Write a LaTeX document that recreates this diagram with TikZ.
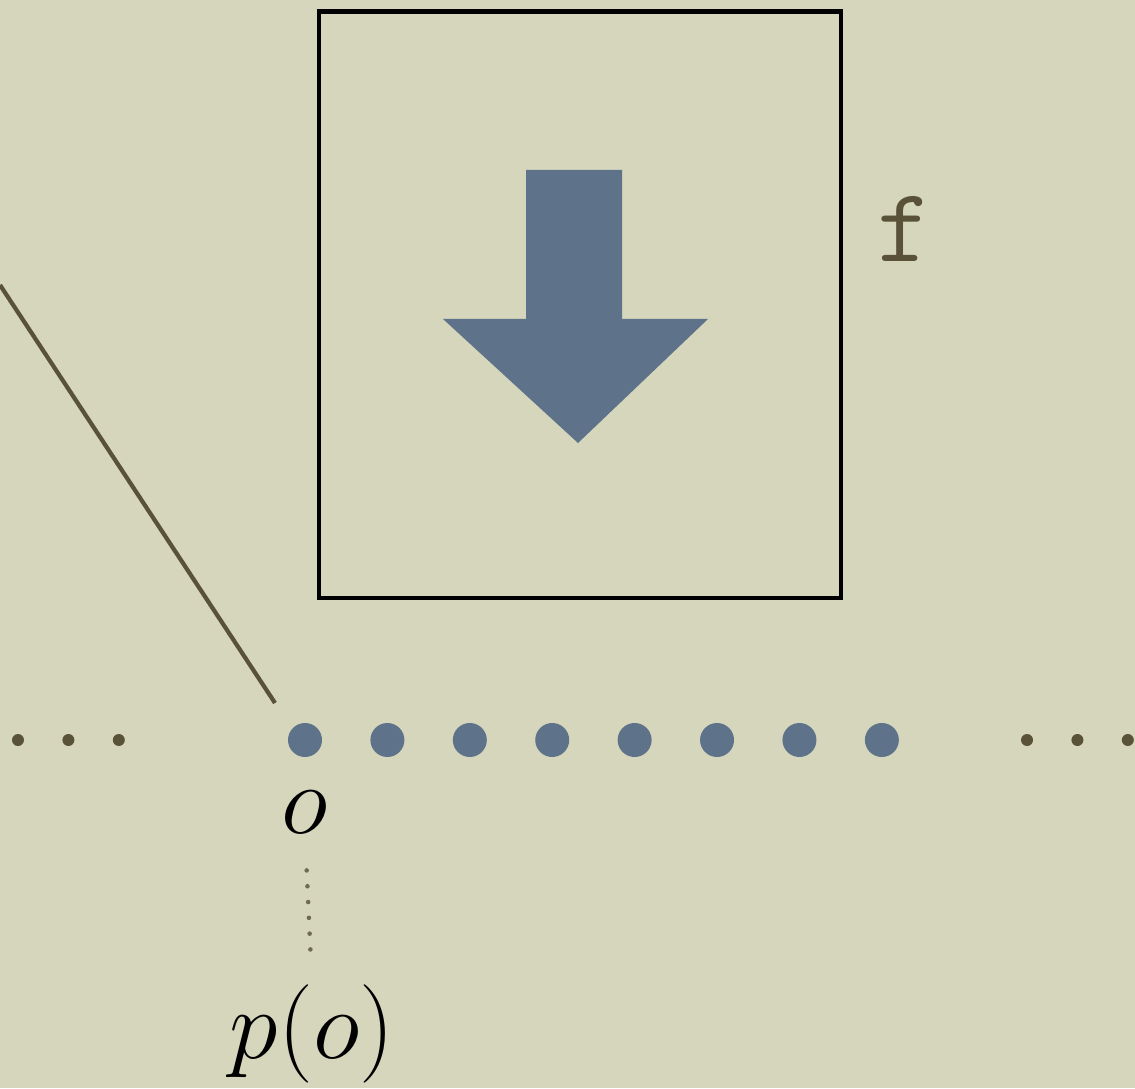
\documentclass[tikz,border=0pt]{standalone}
\usepackage{fix-cm}
\usepackage{fontspec}
\usetikzlibrary{positioning}

\definecolor{paper}{RGB}{213,214,188}
\definecolor{slate}{RGB}{94,115,137}
\definecolor{olive}{RGB}{90,82,56}
\definecolor{greyolive}{RGB}{110,106,85}

\tikzset{
	elem/.style={circle, fill=slate, inner sep=0pt, minimum size=0.34cm},
	ellip/.style={circle, fill=olive, inner sep=0pt, minimum size=0.12cm},
	big/.style={inner sep=0pt, font=\fontsize{28}{33}\selectfont},
}

\begin{document}
\begin{tikzpicture}

	\fill[paper] (0,0) rectangle (11.35,10.88);
	\useasboundingbox (0,0) rectangle (11.35,10.88);

	\node[draw=black, line width=1.4pt, minimum width=5.22cm, minimum height=5.865cm] (frame) at (5.80,7.8325) {};
	\fill[slate] (5.26,9.18) -- (6.22,9.18) -- (6.22,7.69) -- (7.08,7.69)
		-- (5.78,6.45) -- (4.43,7.69) -- (5.26,7.69) -- cycle;
	\node[anchor=base, inner sep=0pt, text=olive, font=\fontsize{30}{36}\selectfont\ttfamily] (fname) at (9.05,8.26) {f};

	\node[elem] (0) at (3.05,3.48) {};
	\node[elem, right=0.47cm of 0] (1) {};
	\node[elem, right=0.47cm of 1] (2) {};
	\node[elem, right=0.47cm of 2] (3) {};
	\node[elem, right=0.47cm of 3] (4) {};
	\node[elem, right=0.47cm of 4] (5) {};
	\node[elem, right=0.47cm of 5] (6) {};
	\node[elem, right=0.47cm of 6] (7) {};

	\node[ellip] (l1) at (0.18,3.48) {};
	\node[ellip, right=0.37cm of l1] (l2) {};
	\node[ellip, right=0.37cm of l2] (l3) {};
	\node[ellip] (r1) at (10.27,3.48) {};
	\node[ellip, right=0.37cm of r1] (r2) {};
	\node[ellip, right=0.37cm of r2] (r3) {};

	\node[big, below=0.33cm of 0] (o) {$o$};
	\node[big, anchor=base] (po) at (3.12,0.30) {$p(o)$};

	\coordinate (edge) at (0,8.03);
	\coordinate (tail) at (2.75,3.85);
	\draw[olive, line width=1.2pt] (edge) -- (tail);

	\draw[greyolive, line width=1.3pt, line cap=round, dash pattern=on 0pt off 4.5pt, shorten <=0.36cm, shorten >=0.24cm] (o.south) -- (po.north);

\end{tikzpicture}
\end{document}
